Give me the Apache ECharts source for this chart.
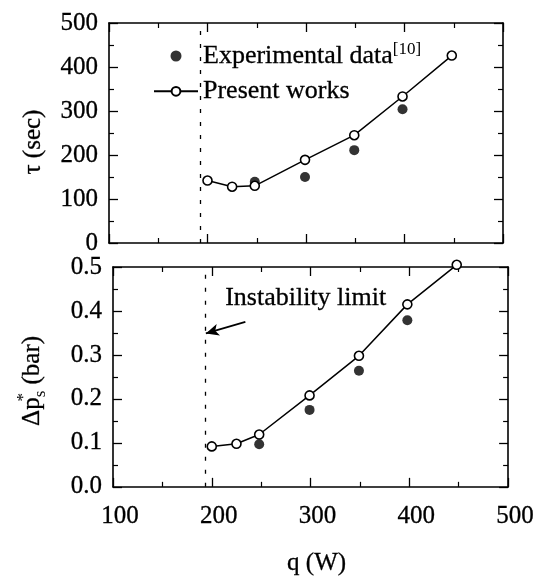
<!DOCTYPE html>
<html>
<head>
<meta charset="utf-8">
<script src="https://cdn.jsdelivr.net/npm/echarts@6/dist/echarts.min.js"></script>
<style>
html,body{margin:0;padding:0;background:#fff;}
#chart{width:537px;height:577px;}
</style>
</head>
<body>
<div id="chart"></div>
<script>
// ---- data ----
const qExp = [248, 299, 349, 398];
const tauExp = [139, 150, 211, 304];
const dpExp = [0.097, 0.175, 0.264, 0.379];

const qModel = [200, 225, 248, 299, 349, 398, 448];
const tauModel = [142, 128, 130, 189, 245, 333, 426];
const dpModel = [0.092, 0.098, 0.119, 0.208, 0.298, 0.415, 0.505];

const instabilityQ = 193;
const qTicks = { min: 100, max: 500, interval: 100 };
const tauTicks = { min: 0, max: 500, interval: 100 };
const dpTicks = { min: 0, max: 0.5, interval: 0.1 };
const arrowFrom = [234, 0.375];
const arrowTo = [194, 0.349];

const FONT = 'Liberation Serif';
const zip = (a, b) => a.map((v, i) => [v, b[i]]);

const frameLine = { show: true, lineStyle: { color: '#000', width: 1.6 } };
const tick = { show: true, inside: true, length: 9, lineStyle: { color: '#000', width: 1.3 } };
const minor = { show: true, splitNumber: 2, length: 5, lineStyle: { color: '#000', width: 1.2 } };
const labelStyle = { color: '#000', fontFamily: FONT, fontSize: 25, textBorderColor: '#000', textBorderWidth: 0.3 };

function xAx(grid, pos, showLabel, extra) {
  return Object.assign({
    type: 'value', gridIndex: grid, position: pos,
    min: qTicks.min, max: qTicks.max, interval: qTicks.interval,
    axisLine: Object.assign({ onZero: false }, frameLine),
    axisTick: tick, minorTick: minor, splitLine: { show: false },
    axisLabel: showLabel ? Object.assign({ margin: 17, padding: [0, 0, 0, 14] }, labelStyle) : { show: false }
  }, extra || {});
}
function yAx(grid, pos, t, showLabel, extra) {
  return Object.assign({
    type: 'value', gridIndex: grid, position: pos,
    min: t.min, max: t.max, interval: t.interval,
    axisLine: Object.assign({ onZero: false }, frameLine),
    axisTick: tick, minorTick: minor, splitLine: { show: false },
    axisLabel: showLabel ? Object.assign({ margin: 11 }, labelStyle) : { show: false }
  }, extra || {});
}

const dashLine = {
  silent: true, symbol: 'none', label: { show: false },
  lineStyle: { color: '#000', type: [4, 9], width: 1.3 },
  data: [{ xAxis: instabilityQ }]
};

const chart = echarts.init(document.getElementById('chart'), null, { renderer: 'canvas' });
chart.setOption({
  animation: false,
  backgroundColor: '#fff',
  grid: [
    { left: 109, top: 23, width: 394, height: 220 },
    { left: 113, top: 267, width: 396, height: 223 }
  ],
  xAxis: [
    xAx(0, 'bottom', false),
    xAx(0, 'top', false),
    xAx(1, 'bottom', true, {
      name: 'q (W)', nameLocation: 'middle', nameGap: 64,
      nameTextStyle: { color: '#000', fontFamily: FONT, fontSize: 25, padding: [0, 0, 0, 12], textBorderColor: '#000', textBorderWidth: 0.3 }
    }),
    xAx(1, 'top', false)
  ],
  yAxis: [
    yAx(0, 'left', tauTicks, true, {
      axisLabel: Object.assign({ margin: 11, padding: [0, 0, 8, 0] }, labelStyle),
      name: '{m|τ (sec)}', nameLocation: 'middle', nameRotate: 90, nameGap: 59,
      nameTextStyle: { padding: [0, 18, 0, 0], rich: { m: { color: '#000', fontFamily: FONT, fontSize: 25, lineHeight: 34, textBorderColor: '#000', textBorderWidth: 0.3 } } }
    }),
    yAx(0, 'right', tauTicks, false),
    yAx(1, 'left', dpTicks, true, {
      axisLabel: Object.assign({ margin: 11, formatter: v => v.toFixed(1) }, labelStyle),
      name: '{d|Δp}{st|*}{sb|s}{m| (bar)}', nameLocation: 'middle', nameRotate: 90, nameGap: 64,
      nameTextStyle: { padding: [0, 8, 0, 0], rich: {
        d: { color: '#000', fontFamily: FONT, fontSize: 25, lineHeight: 34, textBorderColor: '#000', textBorderWidth: 0.3 },
        st: { color: '#000', fontFamily: FONT, fontSize: 17, width: 0, verticalAlign: 'top' },
        sb: { color: '#000', fontFamily: FONT, fontSize: 17, verticalAlign: 'bottom' },
        m: { color: '#000', fontFamily: FONT, fontSize: 25, lineHeight: 34, textBorderColor: '#000', textBorderWidth: 0.3 }
      } }
    }),
    yAx(1, 'right', dpTicks, false)
  ],
  legend: {
    orient: 'vertical', left: 153, top: 41, padding: 0,
    itemWidth: 44, itemHeight: 11, itemGap: 9,
    data: ['Experimental data', 'Present works'],
    formatter: n => n === 'Experimental data' ? '{a|Experimental data}{s|[10]}' : '{a|Present works}',
    textStyle: { rich: {
      a: { color: '#000', fontFamily: FONT, fontSize: 26, lineHeight: 30, textBorderColor: '#000', textBorderWidth: 0.3 },
      s: { color: '#000', fontFamily: FONT, fontSize: 17, verticalAlign: 'top' }
    } }
  },
  graphic: [{
    type: 'text', left: 225, top: 285,
    style: { text: 'Instability limit', fill: '#000', font: '26px "Liberation Serif"', stroke: '#000', lineWidth: 0.3 }
  }],
  series: [
    {
      name: 'Experimental data', type: 'scatter', xAxisIndex: 0, yAxisIndex: 0,
      data: zip(qExp, tauExp), symbol: 'circle', symbolSize: 10,
      itemStyle: { color: '#000' }, z: 2
    },
    {
      name: 'Present works', type: 'line', xAxisIndex: 0, yAxisIndex: 0,
      data: zip(qModel, tauModel), symbol: 'circle', symbolSize: 9, clip: false,
      showAllSymbol: true,
      itemStyle: { color: '#fff', borderColor: '#000', borderWidth: 1.6 },
      lineStyle: { color: '#000', width: 1.5 }, z: 3,
      markLine: dashLine
    },
    {
      name: 'Experimental data', type: 'scatter', xAxisIndex: 2, yAxisIndex: 2,
      data: zip(qExp, dpExp), symbol: 'circle', symbolSize: 10,
      itemStyle: { color: '#000' }, z: 2
    },
    {
      name: 'Present works', type: 'line', xAxisIndex: 2, yAxisIndex: 2,
      data: zip(qModel, dpModel), symbol: 'circle', symbolSize: 9, clip: false,
      showAllSymbol: true,
      itemStyle: { color: '#fff', borderColor: '#000', borderWidth: 1.6 },
      lineStyle: { color: '#000', width: 1.5 }, z: 3,
      markLine: {
        silent: true, label: { show: false },
        symbol: 'none',
        lineStyle: { color: '#000', type: [4, 9], width: 1.3 },
        data: [
          { xAxis: instabilityQ },
          [
            { coord: arrowFrom, symbol: 'none', lineStyle: { type: 'solid', width: 1.8 } },
            { coord: arrowTo, symbol: 'arrow', symbolSize: [9, 13], lineStyle: { type: 'solid', width: 1.8 } }
          ]
        ]
      }
    }
  ]
});
</script>
</body>
</html>
